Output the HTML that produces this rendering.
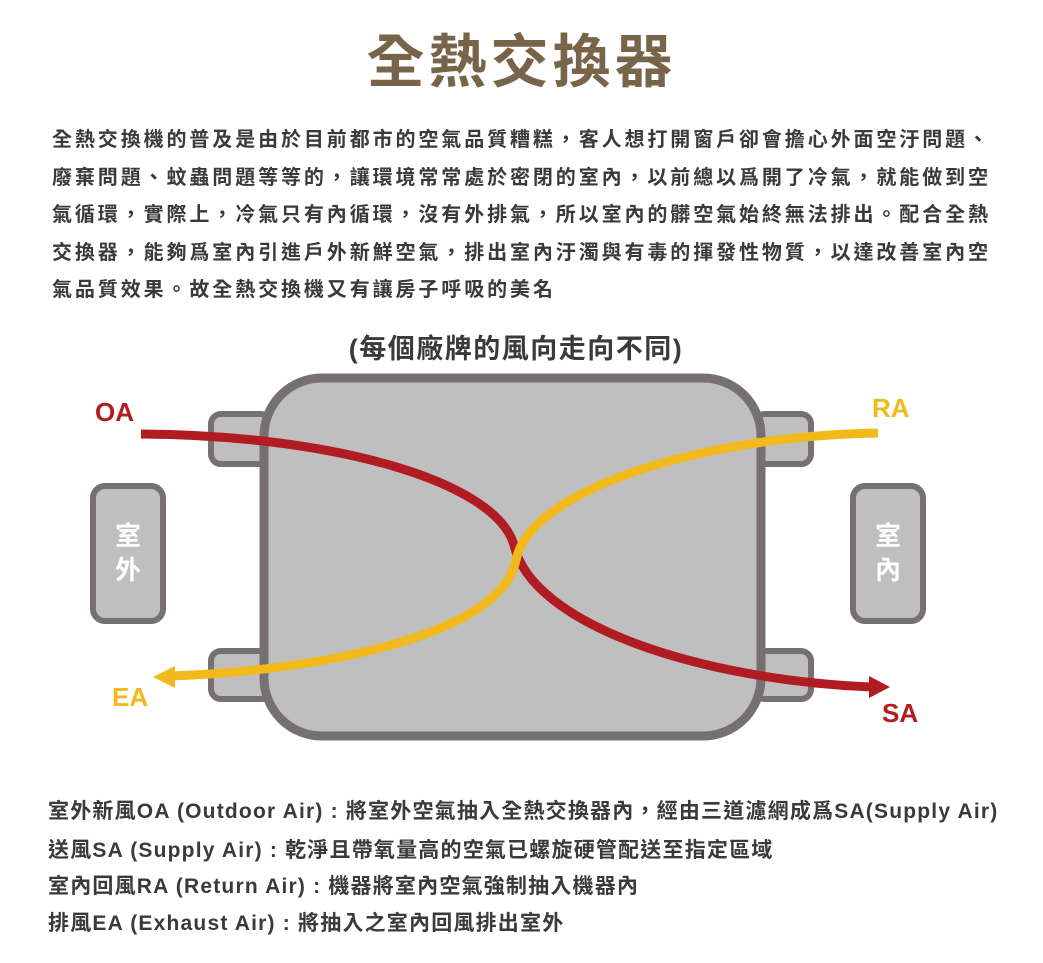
<!DOCTYPE html>
<html><head><meta charset="utf-8"><style>
body{margin:0;width:1043px;height:963px;background:#fff;position:relative;overflow:hidden;font-family:"Liberation Sans","Noto Sans CJK TC",sans-serif;}
.t{position:absolute;left:0;width:1043px;top:26px;text-align:center;font-size:58px;font-weight:bold;color:#786449;letter-spacing:4px;line-height:74px;}
.p{position:absolute;left:52px;font-size:20px;font-weight:bold;color:#3a3a3a;letter-spacing:2.9px;white-space:nowrap;line-height:28px;}
.b{position:absolute;left:48px;font-size:21px;font-weight:bold;color:#3a3a3a;white-space:nowrap;line-height:28px;letter-spacing:1.2px;}
</style></head><body>
<div class="t">全熱交換器</div>
<div class="p" style="top:126px">全熱交換機的普及是由於目前都市的空氣品質糟糕，客人想打開窗戶卻會擔心外面空汙問題、</div>
<div class="p" style="top:164px">廢棄問題、蚊蟲問題等等的，讓環境常常處於密閉的室內，以前總以爲開了冷氣，就能做到空</div>
<div class="p" style="top:201px">氣循環，實際上，冷氣只有內循環，沒有外排氣，所以室內的髒空氣始終無法排出。配合全熱</div>
<div class="p" style="top:239px">交換器，能夠爲室內引進戶外新鮮空氣，排出室內汙濁與有毒的揮發性物質，以達改善室內空</div>
<div class="p" style="top:276px">氣品質效果。故全熱交換機又有讓房子呼吸的美名</div>
<svg style="position:absolute;left:0;top:0" width="1043" height="963">
<text x="516" y="358" text-anchor="middle" font-size="27" letter-spacing="1.5" font-weight="bold" fill="#3a3a3a" font-family="Liberation Sans,Noto Sans CJK TC,sans-serif">(每個廠牌的風向走向不同)</text>
<g fill="#bfbfbf" stroke="#767070" stroke-width="6">
<rect x="211" y="414" width="60" height="50" rx="10"/>
<rect x="211" y="651" width="60" height="48" rx="10"/>
<rect x="755" y="414" width="56" height="50" rx="10"/>
<rect x="755" y="651" width="56" height="48" rx="10"/>
<rect x="93" y="486" width="70" height="135" rx="12"/>
<rect x="853" y="486" width="70" height="135" rx="12"/>
<rect x="264" y="378" width="497" height="358" rx="58" stroke-width="9"/>
</g>
<g font-family="Liberation Sans,Noto Sans CJK TC,sans-serif" font-weight="bold" font-size="26" fill="#fff" text-anchor="middle">
<text x="128" y="545">室</text><text x="128" y="579">外</text>
<text x="888" y="545">室</text><text x="888" y="579">內</text>
</g>
<path d="M141,434 C330,435 495,480 514,545 C532,625 700,680 872,687" fill="none" stroke="#b01c22" stroke-width="9"/>
<polygon points="890,687 869,676 869,698" fill="#b01c22"/>
<path d="M878,433 C700,436 530,490 516,560 C500,640 300,672 170,676" fill="none" stroke="#f2b91d" stroke-width="9"/>
<polygon points="153,677 175,666 175,688" fill="#f2b91d"/>
<g font-family="Liberation Sans,Noto Sans CJK TC,sans-serif" font-weight="bold" font-size="26">
<text x="95" y="421" fill="#b01c22">OA</text>
<text x="872" y="417" fill="#f2b91d">RA</text>
<text x="112" y="706" fill="#f2b91d">EA</text>
<text x="882" y="722" fill="#b01c22">SA</text>
</g>
</svg>
<div class="b" style="top:798px">室外新風OA (Outdoor Air) : 將室外空氣抽入全熱交換器內，經由三道濾網成爲SA(Supply Air)</div>
<div class="b" style="top:837px">送風SA (Supply Air) : 乾淨且帶氧量高的空氣已螺旋硬管配送至指定區域</div>
<div class="b" style="top:873px">室內回風RA (Return Air) : 機器將室內空氣強制抽入機器內</div>
<div class="b" style="top:910px">排風EA (Exhaust Air) : 將抽入之室內回風排出室外</div>
</body></html>
